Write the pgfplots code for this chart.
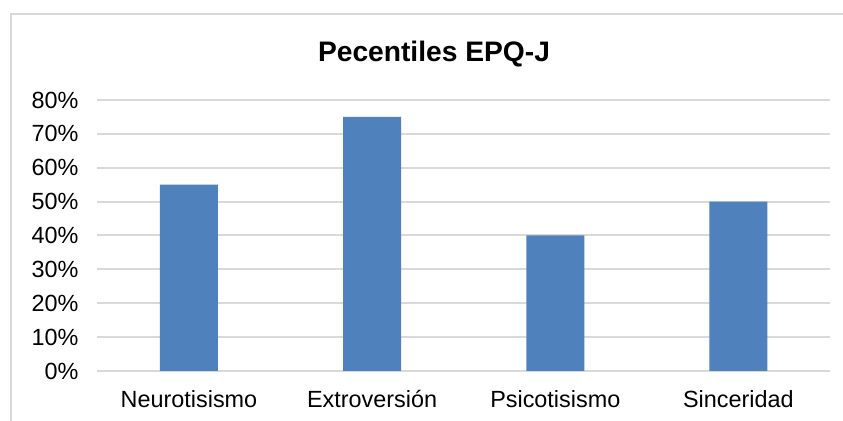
\documentclass[border=0pt]{standalone}
\usepackage{pgfplots}
\pgfplotsset{compat=1.18}
\usepackage{fontspec}
\setmainfont{Liberation Sans}
\definecolor{barblue}{HTML}{4F81BD}
\definecolor{gridgray}{HTML}{D9D9D9}
\begin{document}
\begin{tikzpicture}[x=0.5pt,y=0.5pt]
\useasboundingbox[fill=white] (0,0) rectangle (843,421);
\draw[gridgray, line width=1pt] (11,-5) -- (11,406.5) -- (850,406.5);
\node[font=\fontsize{14.1pt}{16pt}\selectfont\bfseries] at (434,367) {Pecentiles EPQ-J};
\coordinate (A) at (97.4,50);
\begin{axis}[
  at={(A)}, anchor=south west,
  scale only axis,
  width=366.3pt, height=135.5pt,
  xmin=-0.5, xmax=3.5,
  ymin=0, ymax=80,
  axis line style={draw=none},
  ymajorgrids, grid style={gridgray, line width=1pt},
  major tick length=0pt,
  ytick={0,10,...,80},
  yticklabels={0\%,10\%,20\%,30\%,40\%,50\%,60\%,70\%,80\%},
  xtick={0,1,2,3},
  xticklabels={Neurotisismo,Extroversión,Psicotisismo,Sinceridad},
  tick label style={font=\fontsize{11.7pt}{14pt}\selectfont},
  yticklabel style={anchor=east, xshift=-6pt},
  xticklabel style={yshift=-6pt},
  clip=false,
]
\addplot[ybar, bar width=0.3166, fill=barblue, draw=none] coordinates {(0,55) (1,75) (2,40) (3,50)};
\end{axis}
\end{tikzpicture}
\end{document}
